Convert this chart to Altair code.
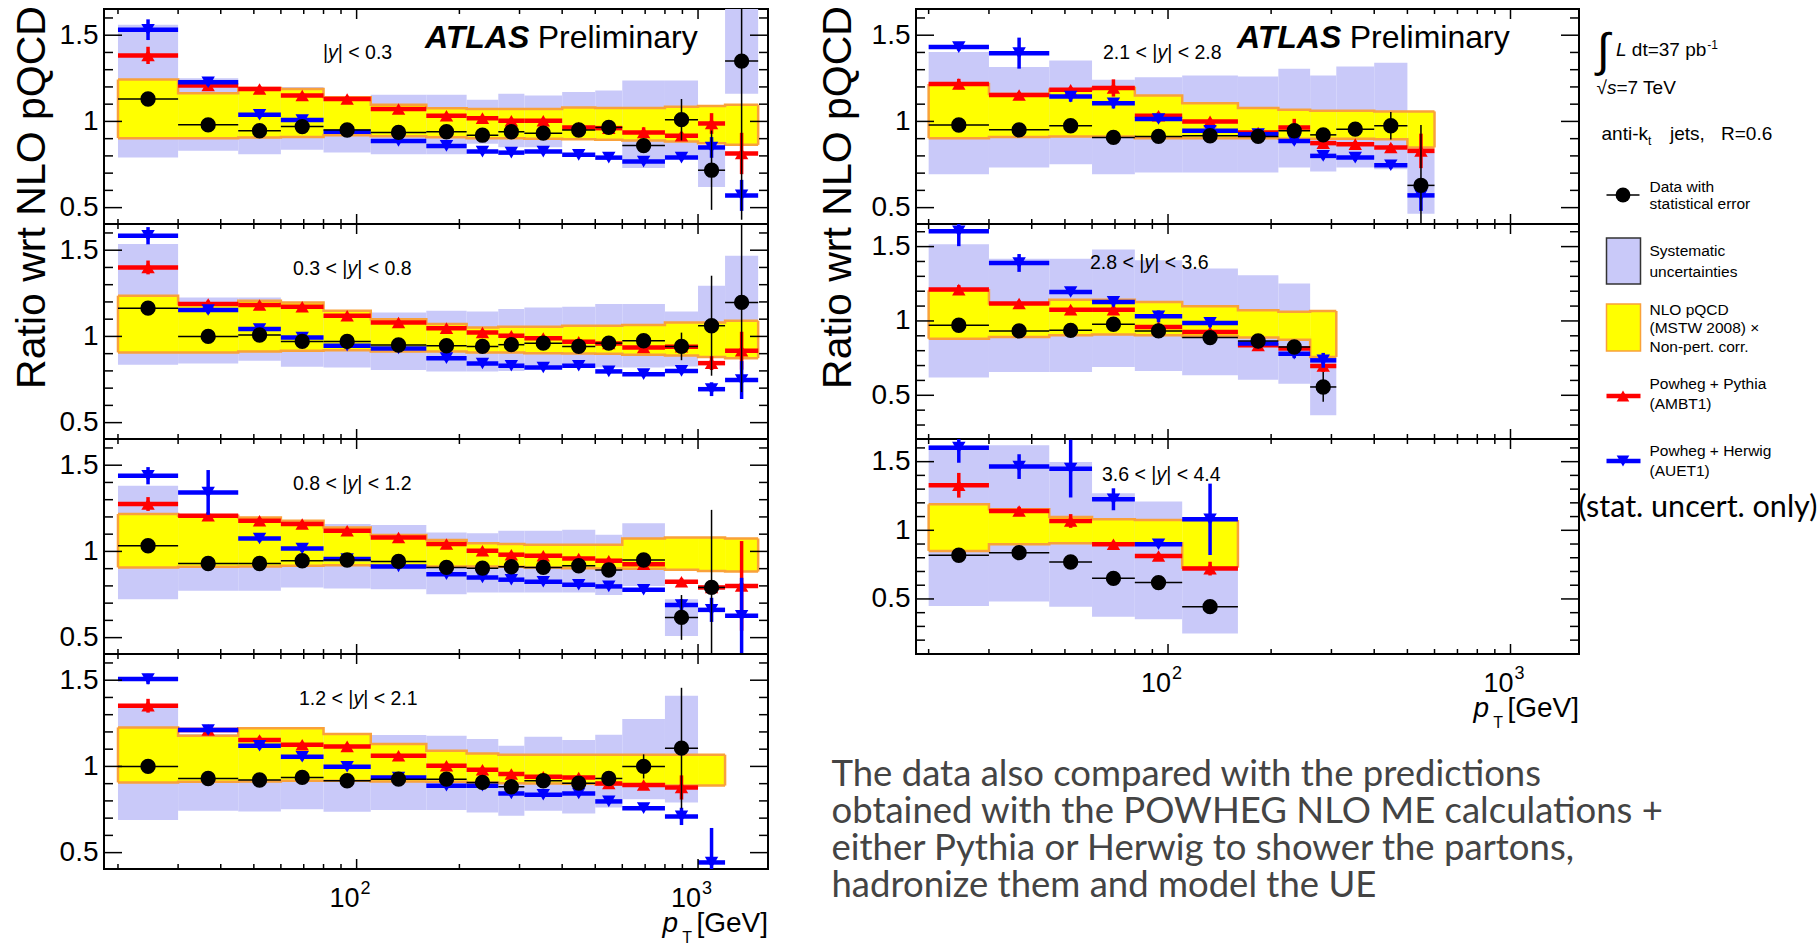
import math
import altair as alt
import pandas as pd

# ---------------------------------------------------------------- binning
EDGES = [20, 30, 45, 60, 80, 110, 160, 210, 260, 310, 400, 500, 600, 800, 1000, 1200, 1500]

# ---------------------------------------------------------------- |y| < 0.3
data_y03 = [1.13, 0.98, 0.946, 0.97, 0.95, 0.936, 0.94, 0.92, 0.94, 0.932, 0.95, 0.965, 0.86, 1.01, 0.717, 1.35]
derr_y03 = [0.012, 0.01, 0.01, 0.01, 0.01, 0.01, 0.01, 0.01, 0.01, 0.01, 0.012, 0.015, 0.03, 0.12, 0.23, 0.92]
slo_y03 = [0.79, 0.83, 0.81, 0.835, 0.82, 0.81, 0.81, 0.87, 0.85, 0.85, 0.90, 0.90, 0.73, 0.80, 0.62, 1.16]
shi_y03 = [1.56, 1.25, 1.19, 1.20, 1.14, 1.155, 1.155, 1.126, 1.16, 1.15, 1.17, 1.18, 1.237, 1.237, 0.85, 1.75]
nlo_y03 = [0.903, 0.903, 0.907, 0.91, 0.92, 0.914, 0.908, 0.903, 0.903, 0.899, 0.897, 0.893, 0.89, 0.884, 0.874, 0.864]
nhi_y03 = [1.243, 1.163, 1.194, 1.188, 1.14, 1.097, 1.076, 1.072, 1.072, 1.072, 1.08, 1.078, 1.078, 1.085, 1.09, 1.097]
pyt_y03 = [1.383, 1.208, 1.188, 1.15, 1.13, 1.072, 1.033, 1.019, 1.004, 1.004, 0.965, 0.961, 0.936, 0.917, 0.988, 0.814]
pyte_y03 = [0.05, 0.02, 0.015, 0.015, 0.015, 0.01, 0.01, 0.01, 0.01, 0.01, 0.01, 0.01, 0.03, 0.02, 0.06, 0.12]
her_y03 = [1.532, 1.227, 1.039, 1.008, 0.94, 0.887, 0.858, 0.825, 0.819, 0.825, 0.806, 0.79, 0.767, 0.79, 0.849, 0.571]
here_y03 = [0.06, 0.02, 0.02, 0.02, 0.01, 0.01, 0.01, 0.01, 0.01, 0.01, 0.01, 0.01, 0.01, 0.015, 0.06, 0.09]

# ---------------------------------------------------------------- 0.3 < |y| < 0.8
data_y08 = [1.164, 1.0, 1.008, 0.971, 0.971, 0.95, 0.946, 0.942, 0.952, 0.961, 0.942, 0.961, 0.975, 0.942, 1.062, 1.197]
derr_y08 = [0.012, 0.01, 0.01, 0.01, 0.01, 0.01, 0.01, 0.01, 0.01, 0.01, 0.01, 0.012, 0.02, 0.08, 0.29, 0.52]
slo_y08 = [0.836, 0.843, 0.859, 0.824, 0.82, 0.805, 0.797, 0.797, 0.80, 0.81, 0.82, 0.82, 0.82, 0.826, 0.878, 0.88]
shi_y08 = [1.536, 1.226, 1.226, 1.197, 1.149, 1.139, 1.149, 1.145, 1.159, 1.168, 1.172, 1.188, 1.188, 1.145, 1.294, 1.468]
nlo_y08 = [0.907, 0.907, 0.913, 0.917, 0.92, 0.913, 0.913, 0.907, 0.907, 0.903, 0.901, 0.899, 0.893, 0.889, 0.88, 0.874]
nhi_y08 = [1.236, 1.188, 1.207, 1.197, 1.149, 1.1, 1.072, 1.052, 1.056, 1.056, 1.062, 1.062, 1.066, 1.081, 1.081, 1.091]
pyt_y08 = [1.4, 1.188, 1.182, 1.172, 1.12, 1.081, 1.048, 1.023, 1.004, 0.99, 0.969, 0.959, 0.936, 0.94, 0.845, 0.917]
pyte_y08 = [0.04, 0.02, 0.015, 0.015, 0.01, 0.01, 0.01, 0.01, 0.01, 0.01, 0.01, 0.01, 0.015, 0.02, 0.04, 0.11]
her_y08 = [1.584, 1.153, 1.043, 0.994, 0.946, 0.93, 0.874, 0.843, 0.83, 0.82, 0.83, 0.797, 0.781, 0.80, 0.694, 0.747]
here_y08 = [0.05, 0.02, 0.02, 0.015, 0.01, 0.015, 0.015, 0.01, 0.01, 0.01, 0.01, 0.01, 0.01, 0.015, 0.04, 0.11]

# ---------------------------------------------------------------- 0.8 < |y| < 1.2
data_y12 = [1.033, 0.93, 0.93, 0.946, 0.95, 0.942, 0.907, 0.903, 0.911, 0.907, 0.917, 0.892, 0.95, 0.617, 0.791, None]
derr_y12 = [0.015, 0.01, 0.01, 0.01, 0.01, 0.01, 0.01, 0.01, 0.01, 0.01, 0.01, 0.012, 0.03, 0.13, 0.45, None]
slo_y12 = [0.723, 0.772, 0.772, 0.791, 0.785, 0.781, 0.752, 0.762, 0.762, 0.762, 0.762, 0.747, 0.80, 0.51, None, None]
shi_y12 = [1.381, 1.178, 1.178, 1.178, 1.159, 1.153, 1.11, 1.106, 1.12, 1.12, 1.126, 1.097, 1.164, 0.723, None, None]
nlo_y12 = [0.907, 0.911, 0.913, 0.917, 0.92, 0.917, 0.913, 0.913, 0.911, 0.907, 0.903, 0.901, 0.899, 0.893, 0.887, 0.883]
nhi_y12 = [1.217, 1.207, 1.197, 1.178, 1.139, 1.095, 1.066, 1.048, 1.043, 1.039, 1.039, 1.039, 1.075, 1.081, 1.081, 1.075]
pyt_y12 = [1.275, 1.207, 1.178, 1.159, 1.12, 1.081, 1.043, 1.004, 0.981, 0.975, 0.959, 0.946, 0.926, 0.824, 0.791, 0.80]
pyte_y12 = [0.04, 0.02, 0.015, 0.015, 0.01, 0.01, 0.01, 0.01, 0.01, 0.01, 0.01, 0.01, 0.015, 0.02, 0.03, 0.26]
her_y12 = [1.439, 1.342, 1.075, 1.017, 0.956, 0.913, 0.868, 0.849, 0.836, 0.824, 0.807, 0.797, 0.778, 0.689, 0.661, 0.627]
here_y12 = [0.05, 0.13, 0.02, 0.02, 0.015, 0.015, 0.01, 0.01, 0.01, 0.01, 0.01, 0.01, 0.01, 0.035, 0.07, 0.22]

# ---------------------------------------------------------------- 1.2 < |y| < 2.1
data_y21 = [1.0, 0.93, 0.921, 0.936, 0.917, 0.926, 0.926, 0.907, 0.882, 0.917, 0.903, 0.93, 1.0, 1.106, None, None]
derr_y21 = [0.01, 0.01, 0.01, 0.01, 0.01, 0.01, 0.01, 0.01, 0.01, 0.01, 0.01, 0.015, 0.07, 0.35, None, None]
slo_y21 = [0.689, 0.743, 0.739, 0.752, 0.737, 0.747, 0.747, 0.733, 0.714, 0.743, 0.727, 0.762, 0.81, 0.79, None, None]
shi_y21 = [1.342, 1.188, 1.217, 1.217, 1.188, 1.182, 1.178, 1.159, 1.12, 1.172, 1.153, 1.184, 1.275, 1.41, None, None]
nlo_y21 = [0.907, 0.911, 0.913, 0.917, 0.917, 0.913, 0.911, 0.907, 0.903, 0.901, 0.899, 0.895, 0.893, 0.889, 0.889, None]
nhi_y21 = [1.226, 1.178, 1.222, 1.222, 1.188, 1.13, 1.091, 1.075, 1.068, 1.068, 1.068, 1.068, 1.068, 1.068, 1.068, None]
pyt_y21 = [1.352, 1.211, 1.153, 1.126, 1.116, 1.062, 1.004, 0.981, 0.956, 0.94, 0.936, 0.901, 0.892, 0.878, None, None]
pyte_y21 = [0.04, 0.02, 0.02, 0.015, 0.015, 0.01, 0.01, 0.01, 0.01, 0.01, 0.01, 0.01, 0.015, 0.07, None, None]
her_y21 = [1.507, 1.211, 1.12, 1.056, 0.998, 0.936, 0.888, 0.888, 0.843, 0.836, 0.843, 0.797, 0.758, 0.71, 0.443, None]
here_y21 = [0.03, 0.02, 0.02, 0.02, 0.015, 0.01, 0.015, 0.015, 0.015, 0.01, 0.01, 0.01, 0.01, 0.05, 0.2, None]

# ---------------------------------------------------------------- 2.1 < |y| < 2.8
data_y28 = [0.979, 0.951, 0.975, 0.907, 0.913, 0.917, 0.913, 0.946, 0.922, 0.955, 0.975, 0.629]
derr_y28 = [0.012, 0.01, 0.01, 0.01, 0.01, 0.01, 0.01, 0.02, 0.02, 0.03, 0.08, 0.35]
slo_y28 = [0.693, 0.732, 0.751, 0.693, 0.703, 0.703, 0.703, 0.732, 0.709, 0.732, 0.722, 0.464]
shi_y28 = [1.402, 1.315, 1.353, 1.241, 1.256, 1.266, 1.26, 1.305, 1.266, 1.318, 1.34, 0.82]
nlo_y28 = [0.903, 0.91, 0.913, 0.913, 0.903, 0.903, 0.903, 0.9, 0.9, 0.9, 0.897, 0.849]
nhi_y28 = [1.217, 1.159, 1.183, 1.194, 1.15, 1.105, 1.078, 1.068, 1.062, 1.062, 1.058, 1.058]
pyt_y28 = [1.217, 1.153, 1.183, 1.194, 1.033, 1.0, 0.936, 0.965, 0.874, 0.868, 0.849, 0.829]
pyte_y28 = [0.03, 0.015, 0.015, 0.05, 0.02, 0.015, 0.015, 0.05, 0.015, 0.015, 0.02, 0.1]
her_y28 = [1.431, 1.396, 1.144, 1.105, 1.014, 0.946, 0.926, 0.887, 0.8, 0.79, 0.746, 0.571]
here_y28 = [0.02, 0.09, 0.03, 0.03, 0.02, 0.02, 0.02, 0.02, 0.02, 0.02, 0.02, 0.09]

# ---------------------------------------------------------------- 2.8 < |y| < 3.6
data_y36 = [0.971, 0.933, 0.937, 0.978, 0.933, 0.888, 0.865, 0.825, 0.556]
derr_y36 = [0.02, 0.02, 0.02, 0.02, 0.02, 0.02, 0.02, 0.03, 0.1]
slo_y36 = [0.619, 0.657, 0.657, 0.691, 0.664, 0.635, 0.605, 0.578, 0.365]
shi_y36 = [1.516, 1.419, 1.419, 1.48, 1.408, 1.352, 1.307, 1.251, 0.9]
nlo_y36 = [0.881, 0.892, 0.904, 0.908, 0.904, 0.897, 0.888, 0.874, 0.758]
nhi_y36 = [1.206, 1.117, 1.143, 1.143, 1.128, 1.099, 1.072, 1.061, 1.067]
pyt_y36 = [1.211, 1.117, 1.076, 1.076, 0.96, 0.926, 0.836, 0.814, 0.697]
pyte_y36 = [0.03, 0.02, 0.02, 0.02, 0.015, 0.015, 0.015, 0.02, 0.04]
her_y36 = [1.603, 1.39, 1.195, 1.128, 1.031, 0.987, 0.848, 0.78, 0.735]
here_y36 = [0.1, 0.06, 0.02, 0.03, 0.04, 0.03, 0.015, 0.03, 0.05]

# ---------------------------------------------------------------- 3.6 < |y| < 4.4
data_y44 = [0.818, 0.837, 0.769, 0.65, 0.619, 0.444]
derr_y44 = [0.02, 0.02, 0.02, 0.02, 0.02, 0.02]
slo_y44 = [0.449, 0.481, 0.444, 0.371, 0.352, 0.248]
shi_y44 = [1.619, 1.619, 1.498, 1.269, 1.209, 0.74]
nlo_y44 = [0.85, 0.898, 0.905, 0.905, 0.905, 0.728]
nhi_y44 = [1.189, 1.153, 1.097, 1.08, 1.075, 1.075]
pyt_y44 = [1.328, 1.141, 1.068, 0.898, 0.813, 0.721]
pyte_y44 = [0.09, 0.03, 0.05, 0.02, 0.02, 0.05]
her_y44 = [1.602, 1.464, 1.449, 1.226, 0.898, 1.08]
here_y44 = [0.11, 0.09, 0.21, 0.08, 0.02, 0.26]

# ---------------------------------------------------------------- axis ticks
YMAJOR = [0.5, 1.0, 1.5]
YMINOR = [0.2, 0.3, 0.4, 0.6, 0.7, 0.8, 0.9, 1.1, 1.2, 1.3, 1.4, 1.6]
XMAJOR = [100, 1000]
XMINOR = [20, 30, 40, 50, 60, 70, 80, 90, 200, 300, 400, 500, 600, 700, 800, 900]
XLAB_SUP = ["2", "3"]

# ---------------------------------------------------------------- style
FONT = "Liberation Sans"
SLIDE_FONT = "Lato"
LAV, YEL, ORG = "#c9c9f9", "#ffff00", "#f9a13a"
RED, BLU = "#ff0000", "#0000ff"
H = 215
W_LEFT, W_RIGHT = 664, 663
XDOM_LEFT = [18.2, 1603]
XDOM_RIGHT = [18.37, 1585]
YDOM_STD = [0.405, 1.652]
YDOM_R2 = [0.206, 1.652]
YDOM_R3 = [0.099, 1.665]

ADV = {" ": .278, "|": .26, "<": .584, ".": .278, "=": .584, "-": .333, "(": .333,
       ")": .333, "+": .584, ",": .278, "i": .222, "l": .222, "t": .278, "r": .333,
       "k": .5, "s": .5, "y": .5, "L": .556, "A": .667}
ADV_BOLD = {"A": .722, "T": .611, "L": .611, "S": .667}


def adv(s, size, table=ADV):
    return sum(table.get(c, .556) for c in s) * size


ONE = pd.DataFrame({"k": [0]})


def text(s, px, py, size, align="left", style="normal", weight="normal",
         font=FONT, color="black", baseline="alphabetic"):
    return alt.Chart(ONE).mark_text(
        align=align, baseline=baseline, fontSize=size, fontStyle=style,
        fontWeight=weight, font=font, color=color
    ).encode(x=alt.value(px), y=alt.value(py), text=alt.value(s))


def bins_frame(n, cols):
    rows = []
    for i in range(n):
        lo, hi = EDGES[i], EDGES[i + 1]
        row = {"lo": lo, "hi": hi, "xc": math.sqrt(lo * hi)}
        for key, arr in cols.items():
            v = arr[i]
            row[key] = float("nan") if v is None else v
        rows.append(row)
    return pd.DataFrame(rows)


def outline_frames(nlo, nhi):
    m = sum(1 for v in nlo if v is not None)
    xs = EDGES[: m + 1]
    top = list(nhi[:m]) + [nhi[m - 1]]
    bot = list(nlo[:m]) + [nlo[m - 1]]
    steps = pd.DataFrame({"x": xs, "top": top, "bot": bot})
    ends = pd.DataFrame({"x": [xs[0], xs[-1]], "b": [bot[0], bot[-1]], "t": [top[0], top[-1]]})
    return steps, ends


def panel(spec, width, xdom, ydom, first=False, last=False, extra=(), title_x=-60):
    xs = alt.Scale(type="log", domain=xdom, nice=False)
    ys = alt.Scale(domain=ydom, nice=False, zero=False)
    cols = spec["cols"]
    df = bins_frame(spec["n"], cols)
    base = alt.Chart(df)

    axis_kw = dict(values=YMAJOR, format="~g", ticks=False, tickSize=0, domain=False,
                   grid=False, labelFont=FONT, labelFontSize=28, labelPadding=6,
                   labelColor="black")
    if first:
        axis_kw.update(title="Ratio wrt NLO pQCD", titleFont=FONT, titleFontSize=41,
                       titleFontWeight="normal", titleColor="black", titleAngle=270,
                       titleAlign="center", titleBaseline="alphabetic",
                       titleX=title_x, titleY=188)
    else:
        axis_kw.update(title=None)
    yaxis = alt.Axis(**axis_kw)

    # every layer shares the same axis definition so the layer merges them cleanly
    def X(f):
        return alt.X(f"{f}:Q", scale=xs, axis=None)

    def Y(f):
        return alt.Y(f"{f}:Q", scale=ys, axis=yaxis)

    layers = []
    # systematic band
    layers.append(base.transform_filter("isValid(datum.slo)").mark_rect(color=LAV, clip=True)
                  .encode(x=X("lo"), x2=alt.X2("hi"), y=Y("slo"), y2=alt.Y2("shi")))
    # NLO band with its outline
    layers.append(base.transform_filter("isValid(datum.nlo)").mark_rect(color=YEL, clip=True)
                  .encode(x=X("lo"), x2=alt.X2("hi"), y=Y("nlo"), y2=alt.Y2("nhi")))
    steps, ends = outline_frames(cols["nlo"], cols["nhi"])
    for f in ("top", "bot"):
        layers.append(alt.Chart(steps).mark_line(interpolate="step-after", color=ORG,
                                                 strokeWidth=2.5, clip=True)
                      .encode(x=X("x"), y=Y(f)))
    layers.append(alt.Chart(ends).mark_rule(color=ORG, strokeWidth=2.5, clip=True)
                  .encode(x=X("x"), y=Y("b"), y2=alt.Y2("t")))

    # Powheg predictions
    for key, err, color, shape in (("pyt", "pyte", RED, "triangle-up"),
                                   ("her", "here", BLU, "triangle-down")):
        sub = base.transform_filter(f"isValid(datum.{key})")
        layers.append(sub.mark_rule(color=color, strokeWidth=4.5, clip=True)
                      .encode(x=X("lo"), x2=alt.X2("hi"), y=Y(key)))
        layers.append(sub.transform_calculate(a=f"datum.{key} - datum.{err}",
                                              b=f"datum.{key} + datum.{err}")
                      .mark_rule(color=color, strokeWidth=3.5, clip=True)
                      .encode(x=X("xc"), y=Y("a"), y2=alt.Y2("b")))
        layers.append(sub.mark_point(shape=shape, filled=True, color=color, size=180,
                                     opacity=1, clip=True)
                      .encode(x=X("xc"), y=Y(key)))

    # data with statistical errors
    dsub = base.transform_filter("isValid(datum.data)")
    layers.append(dsub.mark_rule(color="black", strokeWidth=1.5, clip=True)
                  .encode(x=X("lo"), x2=alt.X2("hi"), y=Y("data")))
    layers.append(dsub.transform_calculate(a="datum.data - datum.derr",
                                           b="datum.data + datum.derr")
                  .mark_rule(color="black", strokeWidth=1.5, clip=True)
                  .encode(x=X("xc"), y=Y("a"), y2=alt.Y2("b")))
    layers.append(dsub.mark_circle(color="black", size=235, opacity=1, clip=True)
                  .encode(x=X("xc"), y=Y("data")))

    # inward ticks on all four sides
    ymaj = pd.DataFrame({"v": [v for v in YMAJOR if ydom[0] < v < ydom[1]]})
    ymin = pd.DataFrame({"v": [v for v in YMINOR if ydom[0] < v < ydom[1]]})
    xmaj = pd.DataFrame({"v": [v for v in XMAJOR if xdom[0] < v < xdom[1]]})
    xmin = pd.DataFrame({"v": [v for v in XMINOR if xdom[0] < v < xdom[1]]})
    for tdf, ln in ((ymaj, 18), (ymin, 9)):
        for a, b in ((0, ln), (width - ln, width)):
            layers.append(alt.Chart(tdf).mark_rule(color="black", strokeWidth=1.5)
                          .encode(y=Y("v"), x=alt.value(a), x2=alt.value(b)))
    for tdf, ln in ((xmaj, 10), (xmin, 5)):
        for a, b in ((H, H - ln), (0, ln)):
            layers.append(alt.Chart(tdf).mark_rule(color="black", strokeWidth=1.5)
                          .encode(x=X("v"), y=alt.value(a), y2=alt.value(b)))

    # rapidity label with an italic y
    lx, lyc = spec["lab"]
    pre, suf = spec["pre"], spec["suf"]
    fs = 19.5
    anchor = lx + adv(pre, fs)
    base_y = lyc + 7
    layers.append(text(pre, anchor, base_y, fs, align="right"))
    layers.append(text("y", anchor, base_y, fs, style="italic"))
    layers.append(text(suf, anchor + 0.5 * fs, base_y, fs))

    if first:
        layers.append(text("ATLAS", 321, 39, 32, style="italic", weight="bold"))
        layers.append(text("Preliminary", 321 + adv("ATLAS", 32, ADV_BOLD) + 6, 39, 32))

    if last:
        xl = alt.Chart(pd.DataFrame({"v": XMAJOR, "s": XLAB_SUP}))
        layers.append(xl.mark_text(align="right", baseline="alphabetic", fontSize=27,
                                   font=FONT, dx=3, color="black")
                      .encode(x=X("v"), y=alt.value(H + 38), text=alt.value("10")))
        layers.append(xl.mark_text(align="left", baseline="alphabetic", fontSize=18,
                                   font=FONT, dx=4, color="black")
                      .encode(x=X("v"), y=alt.value(H + 25), text="s:N"))
        layers.append(text("[GeV]", width, H + 63, 28, align="right"))
        layers.append(text("T", width - 76, H + 74, 16, align="right"))
        layers.append(text("p", width - 90, H + 63, 28, align="right", style="italic"))

    layers.extend(extra)
    return alt.layer(*layers).properties(width=width, height=H)


def cols(suffix):
    g = globals()
    return {k: g[f"{k}_{suffix}"] for k in
            ("data", "derr", "slo", "shi", "nlo", "nhi", "pyt", "pyte", "her", "here")}


LEFT = [
    dict(n=16, pre="|", suf="| < 0.3", lab=(219, 43), cols=cols("y03")),
    dict(n=16, pre="0.3 < |", suf="| < 0.8", lab=(189, 44), cols=cols("y08")),
    dict(n=16, pre="0.8 < |", suf="| < 1.2", lab=(189, 44), cols=cols("y12")),
    dict(n=16, pre="1.2 < |", suf="| < 2.1", lab=(195, 44), cols=cols("y21")),
]
RIGHT = [
    dict(n=12, pre="2.1 < |", suf="| < 2.8", lab=(187, 43), cols=cols("y28")),
    dict(n=9, pre="2.8 < |", suf="| < 3.6", lab=(174, 38), cols=cols("y36")),
    dict(n=6, pre="3.6 < |", suf="| < 4.4", lab=(186, 35), cols=cols("y44")),
]

# ---------------------------------------------------------------- legend block
G = -9          # horizontal offset of the whole legend block
LX = 742.5 + G
legend = [
    text("\u222b", 690 + G, 57, 47),
    text("L", 709 + G, 47, 19, style="italic"),
    text("dt=37 pb", 709 + G + adv("L ", 19), 47, 19),
    text("-1", 709 + G + adv("L ", 19) + adv("dt=37 pb", 19) + 1, 40, 12),
    text("\u221a", 689.5 + G, 85, 19),
    text("s", 700 + G, 85, 19, style="italic"),
    text("=7 TeV", 709.5 + G, 85, 19),
    text("anti-k", 694.5 + G, 131, 19),
    text("t", 694.5 + G + adv("anti-k", 19), 136, 12),
    text("jets,", 763 + G, 131, 19),
    text("R=0.6", 814 + G, 131, 19),
    alt.Chart(ONE).mark_rule(color="black", strokeWidth=1.5).encode(
        x=alt.value(699.5 + G), x2=alt.value(732.5 + G), y=alt.value(186)),
    alt.Chart(ONE).mark_circle(color="black", size=220, opacity=1).encode(
        x=alt.value(716 + G), y=alt.value(186)),
    alt.Chart(ONE).mark_rect(fill=LAV, stroke="#333333", strokeWidth=1.5).encode(
        x=alt.value(699.5 + G), x2=alt.value(733.5 + G), y=alt.value(229), y2=alt.value(275)),
    alt.Chart(ONE).mark_rect(fill=YEL, stroke=ORG, strokeWidth=1.5).encode(
        x=alt.value(699.5 + G), x2=alt.value(733.5 + G), y=alt.value(295), y2=alt.value(342)),
    alt.Chart(ONE).mark_rule(color=RED, strokeWidth=4.5).encode(
        x=alt.value(699.5 + G), x2=alt.value(733.5 + G), y=alt.value(387)),
    alt.Chart(ONE).mark_point(shape="triangle-up", filled=True, color=RED, size=160,
                              opacity=1).encode(x=alt.value(716 + G), y=alt.value(387)),
    alt.Chart(ONE).mark_rule(color=BLU, strokeWidth=4.5).encode(
        x=alt.value(699.5 + G), x2=alt.value(733.5 + G), y=alt.value(452)),
    alt.Chart(ONE).mark_point(shape="triangle-down", filled=True, color=BLU, size=160,
                              opacity=1).encode(x=alt.value(716 + G), y=alt.value(452)),
    text("Data with", LX, 183, 15.5),
    text("statistical error", LX, 200, 15.5),
    text("Systematic", LX, 247, 15.5),
    text("uncertainties", LX, 268, 15.5),
    text("NLO pQCD", LX, 306, 15.5),
    text("(MSTW 2008) \u00d7", LX, 324, 15.5),
    text("Non-pert. corr.", LX, 343, 15.5),
    text("Powheg + Pythia", LX, 380, 15.5),
    text("(AMBT1)", LX, 400, 15.5),
    text("Powheg + Herwig", LX, 447, 15.5),
    text("(AUET1)", LX, 467, 15.5),
    text("(stat. uncert. only)", 662.5, 508, 30.5, font=SLIDE_FONT),
]

PARAGRAPH = [
    "The data also compared with the predictions",
    "obtained with the POWHEG NLO ME calculations +",
    "either Pythia or Herwig to shower the partons,",
    "hadronize them and model the UE",
]
para = [text(s, -84.5, 347 + 37 * i, 36.5, font=SLIDE_FONT, color="#444444")
        for i, s in enumerate(PARAGRAPH)]

left_panels = [panel(s, W_LEFT, XDOM_LEFT, YDOM_STD, first=(i == 0), last=(i == 3))
               for i, s in enumerate(LEFT)]
right_panels = [
    panel(RIGHT[0], W_RIGHT, XDOM_RIGHT, YDOM_STD, first=True, extra=legend, title_x=-66),
    panel(RIGHT[1], W_RIGHT, XDOM_RIGHT, YDOM_R2),
    panel(RIGHT[2], W_RIGHT, XDOM_RIGHT, YDOM_R3, last=True, extra=para),
]

left_col = alt.vconcat(*left_panels, spacing=0, bounds="flush")
right_col = alt.vconcat(*right_panels, spacing=0, bounds="flush")

chart = (
    alt.hconcat(left_col, right_col, spacing=45)
    .properties(padding={"left": 9, "top": 4, "right": 0, "bottom": 0}, background="white")
    .configure_view(stroke="black", strokeWidth=2)
)

chart.save("out.html", embed_options={"renderer": "svg", "actions": False})
